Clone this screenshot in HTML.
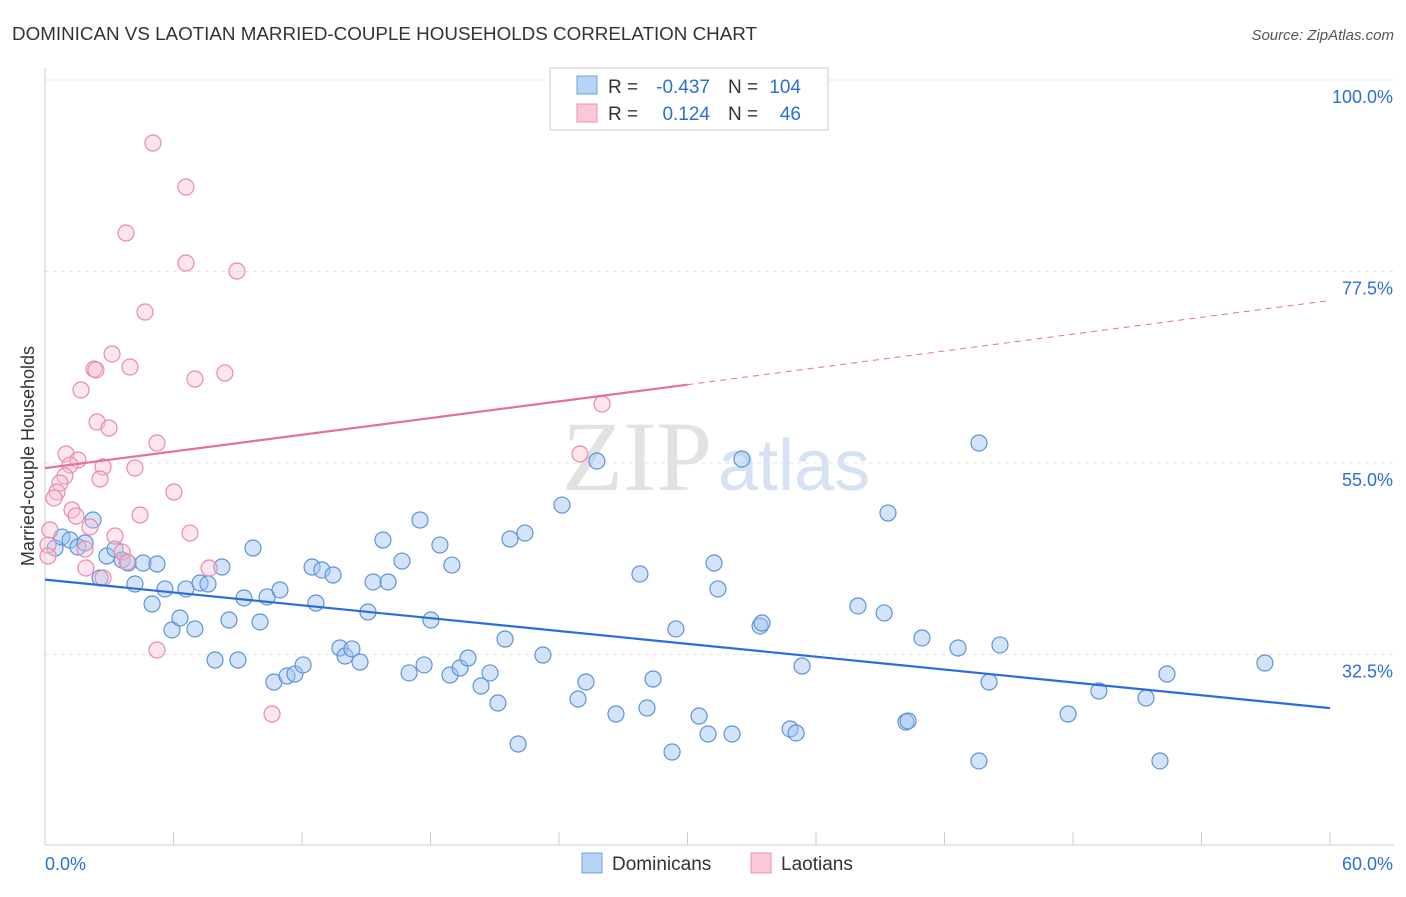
<!DOCTYPE html>
<html><head><meta charset="utf-8"><style>
body{margin:0;background:#fff;font-family:"Liberation Sans",sans-serif}
svg text{font-family:"Liberation Sans",sans-serif}
</style></head><body>
<svg width="1406" height="892" xmlns="http://www.w3.org/2000/svg">
<text x="12" y="40" font-size="18" fill="#333" textLength="745" lengthAdjust="spacingAndGlyphs">DOMINICAN VS LAOTIAN MARRIED-COUPLE HOUSEHOLDS CORRELATION CHART</text>
<text x="1394" y="40" font-size="15" fill="#555" text-anchor="end" font-style="italic">Source: ZipAtlas.com</text>
<g id="grid"></g>
<text x="712" y="490" font-size="100" fill="#e2e2e2" text-anchor="end" style="font-family:'Liberation Serif',serif">ZIP</text>
<text x="718" y="490" font-size="72" fill="#d6e2f3">atlas</text>
<g id="axes"></g>
<g id="marks"></g>
<g>
<rect x="550" y="68" width="278" height="62" fill="#fff" stroke="#ccc"/>
<rect x="577" y="76" width="20" height="18" fill="#b9d3f5" stroke="#6f9fe0"/>
<rect x="577" y="104" width="20" height="18" fill="#fbc8d8" stroke="#ec8fb0"/>
<g font-size="19">
<text x="608" y="93" fill="#333">R =</text>
<text x="710" y="93" fill="#2a6fd8" text-anchor="end">-0.437</text>
<text x="728" y="93" fill="#333">N =</text>
<text x="801" y="93" fill="#2a6fd8" text-anchor="end">104</text>
</g>
<g font-size="19">
<text x="608" y="120" fill="#333">R =</text>
<text x="710" y="120" fill="#2a6fd8" text-anchor="end">0.124</text>
<text x="728" y="120" fill="#333">N =</text>
<text x="801" y="120" fill="#2a6fd8" text-anchor="end">46</text>
</g>
</g>
<g>
<rect x="582" y="853" width="20" height="20" fill="#b9d3f5" stroke="#6f9fe0"/>
<text x="612" y="870" font-size="19" fill="#333">Dominicans</text>
<rect x="751" y="853" width="20" height="20" fill="#fbc8d8" stroke="#ec8fb0"/>
<text x="781" y="870" font-size="19" fill="#333">Laotians</text>
</g>
<text x="34" y="456" font-size="18" fill="#333" text-anchor="middle" transform="rotate(-90 34 456)">Married-couple Households</text>
</svg>
<script>
const yTicks=[100,77.5,55,32.5];
const yTickLabels=["100.0%","77.5%","55.0%","32.5%"];
const xEndLabels=["0.0%","60.0%"];
const bluePx=[[55,548],[62,537],[70,540],[78,547],[85,543],[93,520],[100,578],[107,556],[115,549],[122,560],[128,563],[135,584],[143,563],[152,604],[157,564],[165,589],[172,630],[180,618],[186,589],[195,629],[200,583],[208,584],[215,660],[222,567],[229,620],[238,660],[244,598],[253,548],[260,622],[267,597],[274,682],[280,590],[287,676],[295,674],[303,665],[312,567],[316,603],[322,570],[333,575],[340,648],[345,656],[352,649],[360,662],[368,612],[373,582],[383,540],[388,582],[402,561],[409,673],[420,520],[424,665],[431,620],[440,545],[450,675],[452,565],[460,668],[468,658],[481,686],[490,673],[498,703],[505,639],[510,539],[518,744],[525,533],[543,655],[562,505],[578,699],[586,682],[597,461],[616,714],[640,574],[647,708],[653,679],[672,752],[676,629],[699,716],[708,734],[714,563],[718,589],[732,734],[742,459],[760,626],[762,623],[790,729],[796,733],[802,666],[858,606],[884,613],[888,513],[906,722],[908,721],[922,638],[958,648],[979,443],[989,682],[1000,645],[1068,714],[1099,691],[1146,698],[1160,761],[1167,674],[1265,663],[979,761]];
const pinkPx=[[153,143],[186,187],[126,233],[186,263],[237,271],[145,312],[112,354],[94,369],[96,370],[130,367],[195,379],[225,373],[81,390],[97,422],[109,428],[157,443],[66,454],[78,460],[70,465],[103,467],[135,468],[65,476],[60,483],[100,479],[174,492],[57,492],[54,498],[72,510],[140,515],[76,516],[190,533],[90,527],[115,536],[50,530],[48,545],[85,549],[122,552],[48,556],[209,568],[86,568],[103,578],[157,650],[272,714],[602,404],[580,454],[127,562]];
const toX=p=>(p-45)/1285*60, toY=p=>100-(p-80)/8.511;
const dominicanX=bluePx.map(p=>+toX(p[0]).toFixed(2));
const dominicanY=bluePx.map(p=>+toY(p[1]).toFixed(2));
const laotianX=pinkPx.map(p=>+toX(p[0]).toFixed(2));
const laotianY=pinkPx.map(p=>+toY(p[1]).toFixed(2));
const blueTrend=[[0,41.3],[60,26.2]];
const pinkTrend=[[0,54.4],[30,64.2],[60,74.1]];

const X=v=>45+v/60*1285, Y=v=>80+(100-v)*8.511;
const NS="http://www.w3.org/2000/svg";
function mk(parent,tag,attrs){const e=document.createElementNS(NS,tag);for(const k in attrs)e.setAttribute(k,attrs[k]);document.getElementById(parent).appendChild(e);return e;}
yTicks.forEach((t,i)=>{
 const l=mk('grid','line',{x1:45,x2:1394,y1:Y(t),y2:Y(t),stroke:'#e3e3e3','stroke-dasharray':'4 4'});
 
 
 const tx=mk('grid','text',{x:1393,y:Y(t)+23,'font-size':18,fill:'#2a6fd8','text-anchor':'end'});
 tx.textContent=yTickLabels[i];
 
 
});
let a=mk('axes','line',{x1:45,x2:45,y1:68,y2:845,stroke:'#ccc'});


a=mk('axes','line',{x1:45,x2:1394,y1:845,y2:845,stroke:'#ccc'});


for(let i=1;i<=10;i++){
 const t=mk('axes','line',{x1:X(i*6),x2:X(i*6),y1:832,y2:845,stroke:'#ccc'});
 
 
}
[[45,'start',0],[1393,'end',1]].forEach(([x,an,i])=>{
 const t=mk('axes','text',{x:x,y:870,'font-size':18,fill:'#2a6fd8','text-anchor':an});
 t.textContent=xEndLabels[i];
 
 
});
dominicanX.forEach((x,i)=>{
 const c=mk('marks','circle',{cx:X(x),cy:Y(dominicanY[i]),r:8,fill:'rgba(160,195,240,0.45)',stroke:'#5d93dc','stroke-width':1.2});
 
 
});
laotianX.forEach((x,i)=>{
 const c=mk('marks','circle',{cx:X(x),cy:Y(laotianY[i]),r:8,fill:'rgba(250,190,210,0.4)',stroke:'#e98aac','stroke-width':1.2});
 
 
});
let tl=mk('marks','line',{x1:X(blueTrend[0][0]),y1:Y(blueTrend[0][1]),x2:X(blueTrend[1][0]),y2:Y(blueTrend[1][1]),stroke:'#2a6fd8','stroke-width':2.2});


tl=mk('marks','line',{x1:X(pinkTrend[0][0]),y1:Y(pinkTrend[0][1]),x2:X(pinkTrend[1][0]),y2:Y(pinkTrend[1][1]),stroke:'#e5709a','stroke-width':2.2});


tl=mk('marks','line',{x1:X(pinkTrend[1][0]),y1:Y(pinkTrend[1][1]),x2:X(pinkTrend[2][0]),y2:Y(pinkTrend[2][1]),stroke:'#e5709a','stroke-width':1,'stroke-dasharray':'6 5'});


</script>
</body></html>
